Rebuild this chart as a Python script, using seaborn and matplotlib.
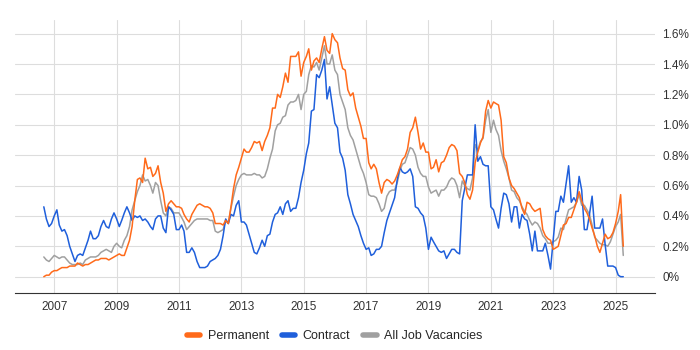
import numpy as np
import pandas as pd
import matplotlib
matplotlib.use("Agg")
import matplotlib.pyplot as plt
import matplotlib.dates as mdates
import seaborn as sns

# monthly share of vacancies (%), Sep 2006 - Apr 2025
months = pd.date_range("2006-09-01", "2025-04-01", freq="MS")

permanent = [
    0.00, 0.01, 0.01, 0.03,
    0.04, 0.04, 0.05, 0.06, 0.06, 0.06, 0.07, 0.07, 0.07, 0.09, 0.08, 0.07,
    0.08, 0.08, 0.09, 0.10, 0.11, 0.11, 0.12, 0.12, 0.12, 0.11, 0.12, 0.13,
    0.14, 0.15, 0.14, 0.14, 0.19, 0.24, 0.33, 0.50, 0.64, 0.65, 0.62, 0.78,
    0.71, 0.72, 0.66, 0.68, 0.73, 0.62, 0.55, 0.43, 0.48, 0.50, 0.48, 0.46,
    0.46, 0.45, 0.41, 0.38, 0.36, 0.41, 0.44, 0.47, 0.48, 0.47, 0.46, 0.46,
    0.45, 0.42, 0.35, 0.35, 0.35, 0.34, 0.37, 0.35, 0.46, 0.58, 0.67, 0.72,
    0.78, 0.84, 0.82, 0.82, 0.85, 0.89, 0.88, 0.89, 0.83, 0.89, 0.93, 0.98,
    1.11, 1.11, 1.20, 1.18, 1.25, 1.34, 1.28, 1.45, 1.45, 1.45, 1.48, 1.32,
    1.41, 1.45, 1.50, 1.36, 1.42, 1.44, 1.41, 1.50, 1.58, 1.49, 1.47, 1.60,
    1.56, 1.54, 1.44, 1.37, 1.36, 1.23, 1.19, 1.21, 1.11, 1.05, 0.99, 0.91,
    0.91, 0.75, 0.71, 0.74, 0.71, 0.62, 0.55, 0.62, 0.64, 0.63, 0.61, 0.63,
    0.67, 0.72, 0.77, 0.79, 0.84, 0.95, 0.98, 1.05, 0.95, 0.84, 0.88, 0.82,
    0.82, 0.71, 0.72, 0.77, 0.69, 0.75, 0.76, 0.80, 0.85, 0.87, 0.86, 0.83,
    0.68, 0.66, 0.62, 0.54, 0.51, 0.57, 0.75, 0.82, 0.88, 0.92, 1.09, 1.16,
    1.11, 1.15, 1.14, 1.13, 1.03, 0.79, 0.75, 0.65, 0.60, 0.58, 0.55, 0.52,
    0.45, 0.41, 0.49, 0.48, 0.45, 0.43, 0.44, 0.45, 0.31, 0.27, 0.25, 0.24,
    0.18, 0.19, 0.20, 0.27, 0.34, 0.35, 0.39, 0.39, 0.44, 0.49, 0.56, 0.50,
    0.45, 0.42, 0.38, 0.32, 0.27, 0.20, 0.16, 0.22, 0.28, 0.25, 0.26, 0.29,
    0.35, 0.43, 0.54, 0.20,
]

contract = [
    0.46, 0.38, 0.33, 0.35,
    0.40, 0.44, 0.34, 0.30, 0.31, 0.27, 0.20, 0.15, 0.10, 0.14, 0.15, 0.14,
    0.19, 0.24, 0.30, 0.25, 0.25, 0.27, 0.33, 0.37, 0.33, 0.32, 0.38, 0.42,
    0.38, 0.33, 0.37, 0.42, 0.46, 0.42, 0.37, 0.40, 0.39, 0.40, 0.37, 0.38,
    0.36, 0.33, 0.31, 0.38, 0.40, 0.40, 0.32, 0.29, 0.46, 0.44, 0.41, 0.31,
    0.31, 0.34, 0.30, 0.16, 0.16, 0.19, 0.16, 0.10, 0.06, 0.06, 0.06, 0.07,
    0.10, 0.11, 0.12, 0.14, 0.18, 0.27, 0.38, 0.35, 0.41, 0.40, 0.47, 0.50,
    0.36, 0.36, 0.34, 0.28, 0.22, 0.16, 0.15, 0.19, 0.24, 0.20, 0.27, 0.28,
    0.36, 0.41, 0.42, 0.46, 0.41, 0.48, 0.50, 0.43, 0.45, 0.45, 0.52, 0.62,
    0.70, 0.81, 0.88, 1.09, 1.10, 1.33, 1.31, 1.36, 1.43, 1.17, 1.25, 1.13,
    1.01, 0.98, 0.82, 0.78, 0.70, 0.54, 0.48, 0.41, 0.37, 0.33, 0.27, 0.22,
    0.18, 0.19, 0.14, 0.15, 0.18, 0.18, 0.20, 0.29, 0.37, 0.42, 0.47, 0.52,
    0.64, 0.72, 0.69, 0.68, 0.69, 0.71, 0.66, 0.46, 0.45, 0.42, 0.40, 0.32,
    0.18, 0.26, 0.23, 0.20, 0.17, 0.16, 0.17, 0.12, 0.15, 0.18, 0.18, 0.16,
    0.15, 0.50, 0.58, 0.67, 0.67, 0.67, 1.00, 0.76, 0.79, 0.74, 0.73, 0.73,
    0.46, 0.44, 0.38, 0.32, 0.45, 0.55, 0.54, 0.48, 0.36, 0.46, 0.46, 0.32,
    0.41, 0.38, 0.37, 0.28, 0.17, 0.30, 0.17, 0.17, 0.17, 0.22, 0.14, 0.05,
    0.24, 0.43, 0.43, 0.53, 0.49, 0.61, 0.73, 0.49, 0.52, 0.49, 0.66, 0.57,
    0.31, 0.31, 0.41, 0.53, 0.32, 0.32, 0.32, 0.38, 0.21, 0.07, 0.07, 0.07,
    0.06, 0.01, 0.00, 0.00,
]

all_jobs = [
    0.13, 0.11, 0.10, 0.12,
    0.14, 0.13, 0.12, 0.13, 0.13, 0.11, 0.09, 0.08, 0.08, 0.08, 0.09, 0.08,
    0.11, 0.12, 0.13, 0.13, 0.13, 0.14, 0.16, 0.17, 0.18, 0.17, 0.16, 0.20,
    0.22, 0.20, 0.19, 0.24, 0.27, 0.33, 0.44, 0.50, 0.56, 0.60, 0.67, 0.63,
    0.64, 0.60, 0.55, 0.62, 0.60, 0.50, 0.42, 0.40, 0.46, 0.45, 0.42, 0.42,
    0.42, 0.39, 0.36, 0.31, 0.33, 0.35, 0.37, 0.38, 0.38, 0.38, 0.38, 0.38,
    0.37, 0.37, 0.30, 0.29, 0.30, 0.31, 0.37, 0.35, 0.45, 0.53, 0.60, 0.64,
    0.67, 0.68, 0.67, 0.67, 0.67, 0.68, 0.67, 0.67, 0.65, 0.66, 0.71, 0.78,
    0.84, 0.96, 1.00, 1.01, 1.05, 1.06, 1.13, 1.15, 1.15, 1.16, 1.20, 1.10,
    1.20, 1.22, 1.33, 1.39, 1.38, 1.41, 1.36, 1.44, 1.52, 1.40, 1.40, 1.46,
    1.36, 1.33, 1.20, 1.15, 1.10, 0.98, 0.93, 0.90, 0.84, 0.78, 0.72, 0.68,
    0.62, 0.54, 0.53, 0.53, 0.52, 0.48, 0.43, 0.45, 0.53, 0.56, 0.57, 0.57,
    0.62, 0.70, 0.74, 0.75, 0.80, 0.85, 0.84, 0.80, 0.72, 0.68, 0.66, 0.66,
    0.59, 0.55, 0.56, 0.57, 0.53, 0.57, 0.57, 0.59, 0.63, 0.65, 0.64, 0.60,
    0.52, 0.63, 0.60, 0.58, 0.57, 0.65, 0.87, 0.83, 0.89, 0.91, 1.03, 1.10,
    0.95, 1.03, 0.97, 0.93, 0.83, 0.76, 0.71, 0.65, 0.57, 0.56, 0.52, 0.50,
    0.46, 0.43, 0.41, 0.37, 0.34, 0.36, 0.35, 0.32, 0.27, 0.25, 0.22, 0.22,
    0.23, 0.24, 0.26, 0.32, 0.31, 0.38, 0.44, 0.45, 0.46, 0.49, 0.54, 0.47,
    0.47, 0.44, 0.41, 0.34, 0.26, 0.24, 0.22, 0.21, 0.21, 0.20, 0.23, 0.28,
    0.33, 0.36, 0.41, 0.14,
]

series_names = ["Permanent", "Contract", "All Job Vacancies"]
colors = {"Permanent": "#FF6A1A", "Contract": "#1F5FDB", "All Job Vacancies": "#A0A0A0"}
tick_years = list(range(2007, 2026, 2))

df = pd.concat([
    pd.DataFrame({"date": months, "share": permanent, "series": "Permanent"}),
    pd.DataFrame({"date": months, "share": contract, "series": "Contract"}),
    pd.DataFrame({"date": months, "share": all_jobs, "series": "All Job Vacancies"}),
])

sns.set_style("white")
plt.rcParams["font.family"] = ["Liberation Sans", "DejaVu Sans"]

fig = plt.figure(figsize=(7, 3.5), dpi=100)
ax = fig.add_axes([0.021, 0.163, 0.915, 0.78])

# draw grey first so the coloured lines sit on top
for name in ["All Job Vacancies", "Contract", "Permanent"]:
    sub = df[df["series"] == name]
    sns.lineplot(data=sub, x="date", y="share", color=colors[name],
                 linewidth=1.1, ax=ax, label=None, legend=False)

ax.set_xlim(pd.Timestamp("2005-09-25"), pd.Timestamp("2026-04-10"))
ax.set_ylim(-0.107, 1.69)

ax.set_yticks(np.arange(0, 1.61, 0.2))
ax.yaxis.tick_right()
ax.set_yticklabels(["0%"] + ["%.1f%%" % v for v in np.arange(0.2, 1.61, 0.2)])
ax.set_xticks([pd.Timestamp(f"{y}-01-01") for y in tick_years])
ax.xaxis.set_major_formatter(mdates.DateFormatter("%Y"))
ax.tick_params(axis="both", length=0, labelsize=8.5, colors="#333333")
ax.tick_params(axis="y", pad=5)
ax.tick_params(axis="x", pad=6)

ax.grid(True, color="#DDDDDD", linewidth=0.8)
ax.set_xlabel("")
ax.set_ylabel("")
for side in ["top", "right", "left"]:
    ax.spines[side].set_visible(False)
ax.spines["bottom"].set_color("#333333")
ax.spines["bottom"].set_linewidth(0.8)

handles = [plt.Line2D([0], [0], color=colors[n], lw=4) for n in series_names]
fig.legend(handles, series_names, loc="lower center", bbox_to_anchor=(0.478, -0.01),
           ncol=3, frameon=False, fontsize=9, handlelength=1.1,
           columnspacing=1.0, handletextpad=0.6)

fig.savefig("out.png", dpi=100)
